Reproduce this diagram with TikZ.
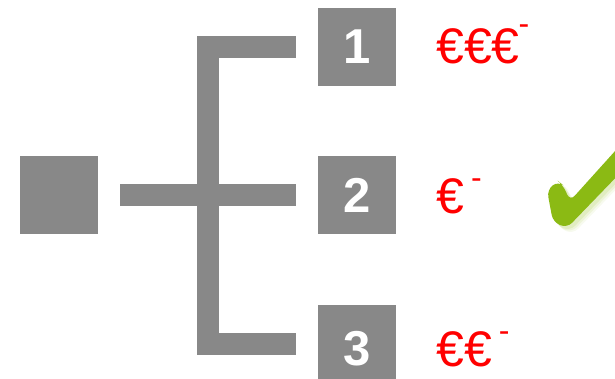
\documentclass[tikz,border=0pt]{standalone}
\usepackage{fontspec}
\setmainfont{Liberation Sans}
\newcommand\smalldash{{\fontsize{32}{32}\selectfont -}}
\definecolor{boxgray}{RGB}{136,136,136}
\definecolor{checkgreen}{RGB}{139,186,20}
\definecolor{shadowgreen}{RGB}{190,215,120}
\begin{document}
\begin{tikzpicture}[x=1pt,y=-1pt,
  box/.style={fill=boxgray, draw=none, minimum width=78pt, minimum height=78pt, inner sep=0pt},
  num/.style={text=white, font=\fontsize{49}{49}\selectfont\bfseries, inner sep=0pt},
  bar/.style={draw=boxgray, line width=22pt, line cap=butt, line join=miter},
  price/.style={text=red, font=\fontsize{50}{50}\selectfont, anchor=base west, inner sep=0pt}
]
\useasboundingbox (0,0) rectangle (615,378);
% boxes
\node[box] (s) at (59,195) {};
\node[box] (b1) at (357,46.5) {};
\node[box] (b2) at (357,195) {};
\node[box] (b3) at (357,344) {};
\node[num] (n1) at (b1.center) {1};
\node[num] (n2) at (b2.center) {2};
\node[num] (n3) at ([yshift=-5pt]b3.center) {3};
% connectors
\coordinate (j) at (208,195);
\draw[bar] ([xshift=22pt]s.east) -- ([xshift=-22pt]b2.west);
\draw[bar] ([xshift=-22pt]b1.west) -| (j) |- ([xshift=-22pt]b3.west);
% prices
\node[price] (p1) at (436,63) {€€€\kern-1pt\raisebox{29pt}{\smalldash}};
\node[price] (p2) at (436,213) {€\kern7pt\raisebox{25pt}{\smalldash}};
\node[price] (p3) at (436,366) {€€\kern7pt\raisebox{25pt}{\smalldash}};
% check mark
\foreach \o/\d in {0.12/6,0.18/4.5,0.25/3} {
  \fill[shadowgreen, opacity=\o, rounded corners=7pt, shift={(\d,\d)}]
    (547,190) -- (558,181) -- (563,185) -- (570,201) -- (625,140) -- (625,168) -- (567,228) -- (553,222) -- cycle;
}
\fill[checkgreen, rounded corners=7pt]
    (547,190) -- (558,181) -- (563,185) -- (570,201) -- (625,140) -- (625,168) -- (567,228) -- (553,222) -- cycle;
\end{tikzpicture}
\end{document}
